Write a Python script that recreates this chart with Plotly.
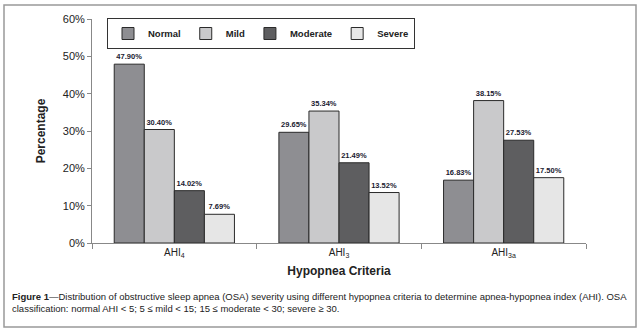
import plotly.graph_objects as go

categories = ["AHI<sub>4</sub>", "AHI<sub>3</sub>", "AHI<sub>3a</sub>"]
series_names = ["Normal", "Mild", "Moderate", "Severe"]
normal = [47.90, 29.65, 16.83]
mild = [30.40, 35.34, 38.15]
moderate = [14.02, 21.49, 27.53]
severe = [7.69, 13.52, 17.50]
y_ticks = [0, 10, 20, 30, 40, 50, 60]

colors = ["#8e8e92", "#c9c9cb", "#5e5e60", "#e6e6e6"]
NARROW = "Liberation Sans Narrow, Arial Narrow, Liberation Sans, Arial, sans-serif"

fig = go.Figure()
for name, vals, col in zip(series_names, [normal, mild, moderate, severe], colors):
    fig.add_trace(go.Bar(
        name=f"<b>{name}</b>", x=categories, y=vals,
        marker=dict(color=col, line=dict(color="#2a2a2a", width=1)),
        text=[f"{v:.2f}%" for v in vals], textposition="outside",
        textfont=dict(family=NARROW, size=7.5, color="#1a1a30"),
        texttemplate="<b>%{text}</b>", cliponaxis=False,
    ))

W, H = 640, 332
l, r, t, b = 92, 54, 19, 89
pw, ph = W - l - r, H - t - b

def px(x):
    return (x - l) / pw

def py(y):
    return (H - b - y) / ph

fig.update_layout(
    width=W, height=H, margin=dict(l=l, r=r, t=t, b=b),
    paper_bgcolor="white", plot_bgcolor="white",
    barmode="group", bargap=0.27, bargroupgap=0,
    font=dict(family=NARROW, color="#222"),
    showlegend=True,
    legend=dict(orientation="h", x=px(107), y=py(18), xanchor="left", yanchor="top",
                bordercolor="#333", borderwidth=1, bgcolor="white",
                font=dict(family=NARROW, size=9.5, color="#222"),
                itemwidth=30, tracegroupgap=0),
    xaxis=dict(showline=True, linecolor="#888", linewidth=1, ticks="outside",
               tickson="boundaries", ticklen=5, tickcolor="#888",
               tickfont=dict(family=NARROW, size=10, color="#222"),
               title=dict(text="<b>Hypopnea Criteria</b>", font=dict(family=NARROW, size=12, color="#222"), standoff=8)),
    yaxis=dict(range=[0, 60], tickvals=y_ticks, ticktext=[f"{v}%" for v in y_ticks],
               showline=True, linecolor="#888", linewidth=1, ticks="outside", ticklen=4,
               tickcolor="#888", showgrid=False, zeroline=False,
               tickfont=dict(family=NARROW, size=11, color="#222"),
               title=dict(text="<b>Percentage</b>", font=dict(family=NARROW, size=12, color="#222"), standoff=14)),
)

fig.add_shape(type="rect", xref="paper", yref="paper",
              x0=px(4), x1=px(636), y0=py(327), y1=py(5),
              line=dict(color="#999", width=1.5), fillcolor="rgba(0,0,0,0)", layer="below")

fig.add_annotation(xref="paper", yref="paper", x=px(10), y=py(289), xanchor="left", yanchor="top",
                   align="left", showarrow=False,
                   text="<b>Figure 1</b>—Distribution of obstructive sleep apnea (OSA) severity using different hypopnea criteria to determine apnea-hypopnea index (AHI). OSA<br>classification: normal AHI &lt; 5; 5 ≤ mild &lt; 15; 15 ≤ moderate &lt; 30; severe ≥ 30.",
                   font=dict(family=NARROW, size=9.5, color="#222"))

fig.write_html("out.html")
